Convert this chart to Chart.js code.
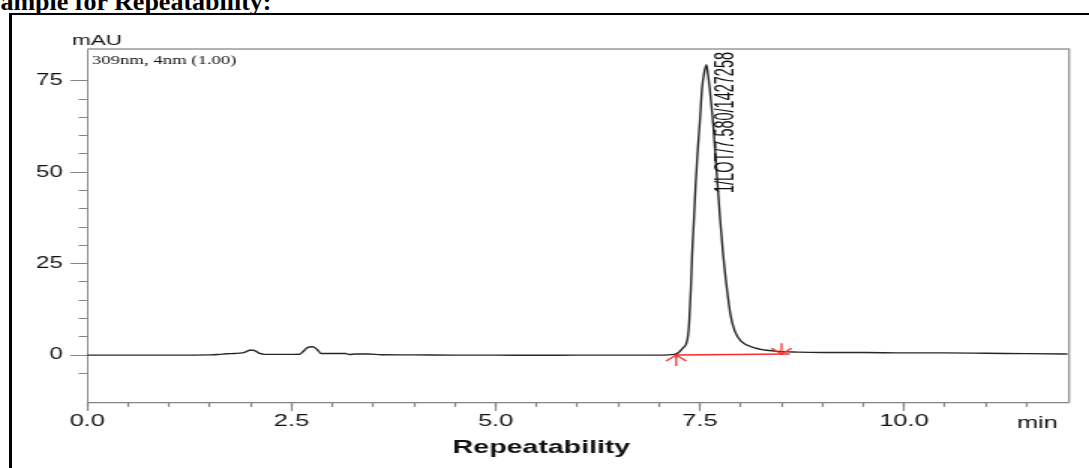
<!DOCTYPE html>
<html>
<head>
<meta charset="utf-8">
<script src="https://cdn.jsdelivr.net/npm/chart.js@4.4.1/dist/chart.umd.min.js"></script>
<style>
  html, body { margin: 0; padding: 0; background: #fff; }
  body { width: 1089px; height: 468px; overflow: hidden; position: relative; }
  #frame { position: absolute; left: 9px; top: 13px; width: 1200px; height: 600px;
           border-left: 3px solid #000; border-top: 2px solid #000; }
  #title { position: absolute; left: -14px; top: -13px; line-height: 26px; white-space: nowrap;
           font: bold 26px "Liberation Serif", "Times New Roman", serif; color: #000; }
  /* the chromatogram picture is stretched sideways, so draw narrow and scale */
  #chart { position: absolute; left: 0; top: 0; transform: scaleX(1.5); transform-origin: 0 0; }
</style>
</head>
<body>
<div id="frame"></div>
<div id="title">Sample for Repeatability:</div>
<canvas id="chart" width="726" height="468"></canvas>
<script>
// retention time (min) and detector signal (mAU)
const time = [0, 0.5, 1.0, 1.5, 1.62, 1.7, 1.8, 1.9, 1.96, 2.0, 2.05, 2.11, 2.17, 2.4, 2.6, 2.64,
  2.7, 2.76, 2.82, 2.86, 2.92, 3.04, 3.16, 3.21, 3.28, 3.44, 3.6, 4.0, 4.5, 5.0, 5.5, 6.0,
  6.5, 7.0, 7.19, 7.29, 7.35, 7.37, 7.39, 7.405, 7.426, 7.446, 7.47, 7.5, 7.527, 7.548, 7.58, 7.6,
  7.62, 7.66, 7.69, 7.72, 7.75, 7.785, 7.83, 7.875, 7.93, 8.01, 8.17, 8.42, 8.7, 9.0, 9.5, 10.0,
  10.5, 11.0, 11.5, 12.0];
const absorbance = [0, 0, 0, 0.05, 0.2, 0.35, 0.45, 0.6, 1.1, 1.4, 1.2, 0.45, 0.2, 0.2, 0.25, 0.9,
  2.1, 2.3, 1.4, 0.45, 0.45, 0.45, 0.45, 0.15, 0.3, 0.3, 0.1, 0.05, 0, 0, -0.05, 0,
  0, 0, 0.2, 1.9, 4.6, 9.2, 18.3, 27.4, 36.5, 45.7, 54.8, 63.9, 73.0, 76.6, 79.4, 76.6,
  73.0, 63.9, 54.8, 45.7, 36.5, 27.4, 18.3, 11.0, 6.4, 3.7, 2.0, 1.1, 0.8, 0.7, 0.7, 0.6,
  0.6, 0.5, 0.4, 0.3];

// integration baseline and its start / end marks
const baselineTimes = [7.21, 8.6];
const baselineLevels = [0, 0.3];
const markTimes = [7.21, 8.5];
const markLevels = [0, 0.25];

const peakTime = 7.58;
const peakLabel = '1/LOT/7.580/1427258';

const xTickValues = [0, 2.5, 5, 7.5, 10];
const xTickLabels = ['0.0', '2.5', '5.0', '7.5', '10.0'];
const yTickValues = [0, 25, 50, 75];
const yTickLabels = ['0', '25', '50', '75'];

const SANS = '"Liberation Sans", Arial, sans-serif';
const AXIS = '#858585';
const INK = '#111';

const onStep = (step) => (scale) => {
  scale.ticks = scale.ticks.filter(t => Math.abs(t.value / step - Math.round(t.value / step)) < 1e-6);
};
const fixedTicks = (values) => (scale) => {
  scale.ticks = values.map(v => ({ value: v }));
};

const extras = {
  id: 'extras',
  afterDraw(chart) {
    const { ctx, chartArea: a, scales } = chart;
    const xs = scales.x, ys = scales.y;
    ctx.save();

    // top / right frame of the plot
    ctx.strokeStyle = '#9a9a9a';
    ctx.lineWidth = 1.4;
    ctx.beginPath();
    ctx.moveTo(a.left, a.top);
    ctx.lineTo(a.right, a.top);
    ctx.lineTo(a.right, a.bottom);
    ctx.stroke();

    // integration marks
    ctx.strokeStyle = '#ff2a2a';
    ctx.lineWidth = 1.3;
    markTimes.forEach((t, i) => {
      const px = xs.getPixelForValue(t), py = ys.getPixelForValue(markLevels[i]);
      const d = i === 0 ? 1 : -1;
      ctx.beginPath();
      ctx.moveTo(px, py); ctx.lineTo(px, py + d * 11);
      ctx.moveTo(px - 6.7, py + d * 6); ctx.lineTo(px, py); ctx.lineTo(px + 6.7, py + d * 6);
      ctx.stroke();
    });

    // peak label, rotated and condensed
    ctx.fillStyle = INK;
    ctx.font = '18px ' + SANS;
    const w = ctx.measureText(peakLabel).width;
    ctx.save();
    ctx.translate(xs.getPixelForValue(peakTime) + 17.6, a.top + 144);
    ctx.rotate(-Math.PI / 2);
    ctx.scale(141 / w, 1);
    ctx.textBaseline = 'alphabetic';
    ctx.fillText(peakLabel, 0, 0);
    ctx.restore();

    // unit labels and channel text
    ctx.textBaseline = 'alphabetic';
    ctx.font = '15px ' + SANS;
    ctx.textAlign = 'left';
    ctx.fillText('mAU', 48, 45);
    ctx.font = '12.5px "Liberation Serif", "Times New Roman", serif';
    ctx.fillText('309nm, 4nm (1.00)', a.left + 3, a.top + 15);
    ctx.font = '17px ' + SANS;
    ctx.textAlign = 'right';
    ctx.fillText('min', a.right - 7.4, 427.5);
    ctx.font = 'bold 19px ' + SANS;
    ctx.textAlign = 'center';
    ctx.fillText('Repeatability', 361, 453);
    ctx.restore();
  }
};

new Chart(document.getElementById('chart'), {
  type: 'line',
  data: {
    datasets: [
      {
        data: time.map((t, i) => ({ x: t, y: absorbance[i] })),
        borderColor: '#262626',
        borderWidth: 1.4,
        pointRadius: 0,
        cubicInterpolationMode: 'monotone',
        fill: false
      },
      {
        data: baselineTimes.map((t, i) => ({ x: t, y: baselineLevels[i] })),
        borderColor: '#ff2a2a',
        borderWidth: 1.5,
        pointRadius: 0,
        fill: false
      }
    ]
  },
  options: {
    responsive: false,
    animation: false,
    devicePixelRatio: 1,
    layout: { padding: { left: 0, top: 49, right: 13.3, bottom: 25 } },
    plugins: { legend: { display: false }, tooltip: { enabled: false } },
    scales: {
      x: {
        type: 'linear', position: 'bottom', weight: 1,
        min: 0, max: 12.02,
        afterBuildTicks: fixedTicks(xTickValues),
        afterFit: (s) => { s.height = 40; },
        ticks: {
          padding: 0, color: INK, font: { family: SANS, size: 17 },
          autoSkip: false, maxRotation: 0,
          callback: (v) => xTickLabels[xTickValues.indexOf(v)] ?? ''
        },
        grid: { drawOnChartArea: false, tickLength: 8, tickColor: AXIS, tickWidth: 1.2 },
        border: { color: AXIS, width: 1.2 }
      },
      x2: {
        type: 'linear', position: 'bottom', weight: 0,
        min: 0, max: 12.02,
        ticks: { stepSize: 0.5, display: false, autoSkip: false },
        afterBuildTicks: onStep(0.5),
        afterFit: (s) => { s.height = 0; },
        grid: { drawOnChartArea: false, tickLength: 4, tickColor: AXIS, tickWidth: 1.2 },
        border: { display: false }
      },
      y: {
        type: 'linear', position: 'left', weight: 1,
        min: -13.1, max: 83.7,
        afterBuildTicks: fixedTicks(yTickValues),
        afterFit: (s) => { s.width = 58.2; },
        ticks: {
          padding: 5, color: INK, font: { family: SANS, size: 16 },
          callback: (v) => yTickLabels[yTickValues.indexOf(v)] ?? ''
        },
        grid: { drawOnChartArea: false, tickLength: 11.3, tickColor: AXIS },
        border: { color: AXIS, width: 1 }
      },
      y2: {
        type: 'linear', position: 'left', weight: 0,
        min: -13.1, max: 83.7,
        ticks: { stepSize: 5, display: false, autoSkip: false },
        afterBuildTicks: onStep(5),
        afterFit: (s) => { s.width = 0; },
        grid: { drawOnChartArea: false, tickLength: 5.8, tickColor: AXIS },
        border: { display: false }
      }
    }
  },
  plugins: [extras]
});
</script>
</body>
</html>
